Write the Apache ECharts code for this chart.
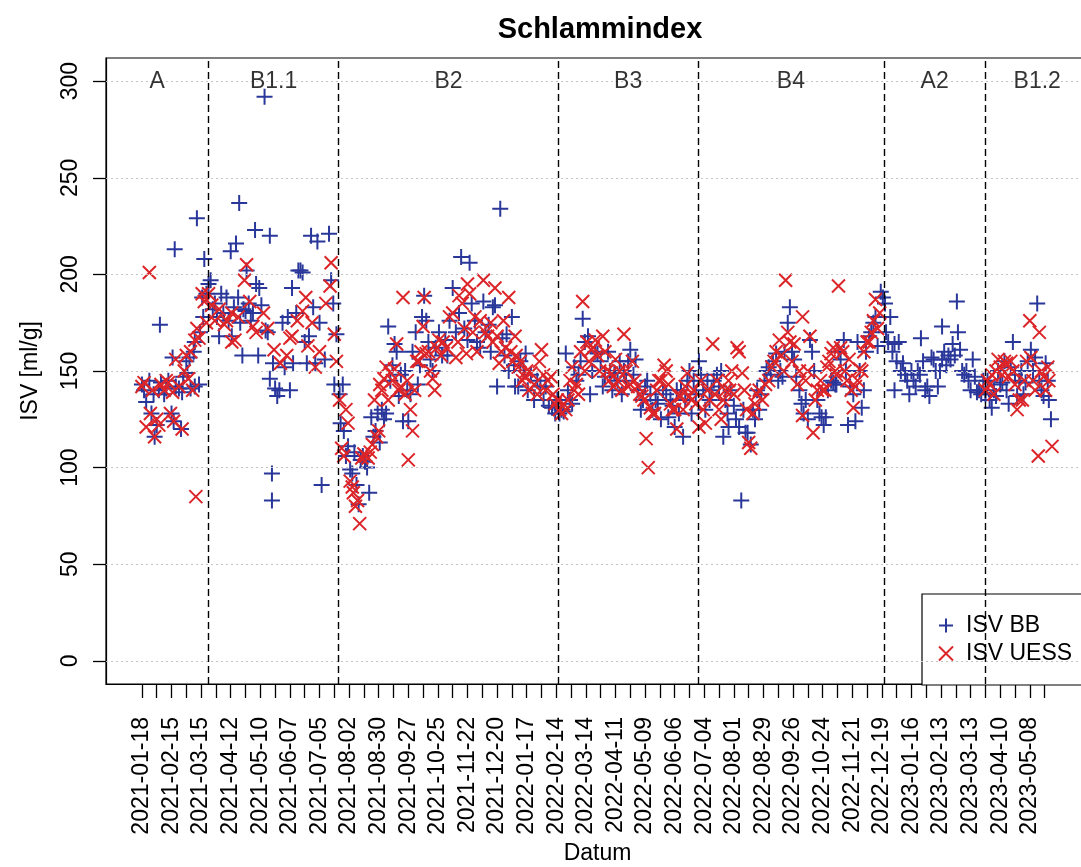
<!DOCTYPE html>
<html>
<head>
<meta charset="utf-8">
<title>Schlammindex</title>
<script src="https://cdn.jsdelivr.net/npm/echarts@6/dist/echarts.min.js"></script>
<style>
  html, body { margin: 0; padding: 0; background: #fff; }
  #chart { width: 1081px; height: 867px; }
</style>
</head>
<body>
<div id="chart"></div>
<script>
// Measurement days are counted from 2021-01-18 (day 0); values are ISV in ml/g.
const START_DATE = '2021-01-18';

const isvBB = [
  [0,143],[2,140],[4,134],[7,145],[9,128],[11,138],[12,116],[14,122],[16,140],[17,174],[18,144],[21,138],
  [23,141],[25,145],[28,128],[29,157],[30,124],[31,213],[32,142],[35,141],[37,120],[38,139],[39,147],[42,155],
  [43,149],[45,157],[46,141],[49,160],[50,142],[50,165],[52,229],[54,143],[55,170],[57,188],[58,178],[59,208],
  [61,190],
  [63,195],[65,197],[67,182],[69,185],[71,178],[73,168],[75,190],[77,180],[80,188],[82,176],[84,212],[85,168],
  [87,183],[89,216],[91,188],[92,237],[93,175],[95,158],[96,182],[98,181],[99,202],[101,185],[103,176],[105,180],
  [107,223],[108,195],[110,158],[111,193],[113,184],[116,292],[117,171],[119,170],[121,220],[121,146],[123,97],
  [123,83],[124,154],[126,141],[128,137],[130,140],[133,175],[135,152],[138,178],[140,140],[142,193],[143,154],
  [146,180],[148,202],[150,202],[152,201],[154,165],[156,154],[158,168],[160,220],[162,183],[164,154],[166,217],
  [168,175],[170,91],[173,156],[177,221],[179,197],[181,185],[182,143],[184,169],
  [187,138],[188,123],[190,143],[191,119],[193,106],[195,111],[197,99],[199,97],[201,108],[203,91],[205,81],
  [207,104],[209,106],[211,103],[213,100],[215,87],[217,126],[219,116],[221,119],[223,128],[225,113],[227,130],
  [229,125],[231,128],[233,173],[235,145],[237,153],[239,164],[241,160],[243,137],[245,148],[247,124],[249,150],
  [251,140],[252,124],[254,138],[256,160],[259,170],[261,143],[263,153],[265,178],[267,189],[269,176],[271,165],
  [273,156],[275,150],[278,162],[281,170],[284,158],[287,166],[289,158],[291,176],[294,193],[297,170],[300,180],
  [302,209],[305,172],[308,166],[310,206],[312,185],[315,176],[317,165],[320,162],[323,186],[325,170],[328,174],
  [330,160],[332,183],[334,184],[336,142],[339,234],[341,167],[343,158],[345,169],[347,150],[350,178],[352,153],
  [353,142],[356,142],[358,155],[361,150],[363,159],[365,140],[368,148],[371,135],[374,145],[377,142],[380,135],
  [382,142],[385,132],[388,131],[391,128],[393,135],
  [395,128],[397,130],[399,129],[401,159],[403,140],[405,135],[407,133],[409,152],[411,145],[413,148],[415,155],
  [417,177],[419,165],[422,168],[424,138],[426,150],[429,160],[431,159],[434,155],[436,142],[438,147],[441,160],
  [443,150],[445,140],[447,149],[450,145],[452,155],[454,138],[456,150],[458,145],[460,155],[462,161],[465,148],
  [467,156],[469,140],[472,130],[474,135],[476,142],[478,145],[481,138],[483,130],[486,135],[488,133],[491,125],
  [493,140],[496,138],[498,126],[500,135],[502,132],[504,121],[506,140],[508,128],[510,140],[512,116],[514,135],
  [516,145],[518,150],[520,128],[522,145],[524,138],
  [527,155],[529,148],[531,140],[533,130],[535,145],[537,135],[539,140],[541,145],[544,148],[546,142],[548,150],
  [550,116],[552,135],[554,128],[555,121],[557,140],[560,132],[562,125],[565,121],[567,83],[569,130],[571,118],
  [573,118],[576,112],[578,130],[580,125],[582,140],[584,130],[586,138],[589,145],[591,150],[593,152],[595,148],
  [597,155],[600,159],[602,145],[604,150],[606,147],[608,160],[611,175],[613,183],[615,160],[617,156],[619,147],
  [622,140],[624,133],[626,128],[628,135],[630,125],[632,166],[634,160],[636,150],[639,135],[641,128],[643,126],
  [645,122],[647,126],[649,140],[652,145],[654,144],[656,143],[657,143],[659,160],[661,156],[664,166],[666,150],
  [668,122],[670,142],[673,138],[675,124],[677,165],[679,150],[681,131],[683,140],[685,160],[688,168],[690,170],
  [692,175],[694,178],[696,163],[699,191],[701,188],
  [703,185],[704,170],[706,165],[708,178],[710,160],[712,164],[712,140],[714,155],[716,165],[718,150],[720,154],
  [722,148],[724,145],[726,138],[728,150],[730,145],[732,142],[734,150],[736,148],[737,167],[739,155],[741,140],
  [743,142],[745,137],[747,157],[749,156],[751,150],[753,142],[755,150],[757,156],[757,173],[759,160],[761,153],
  [763,158],[765,156],[767,164],[769,158],[771,186],[772,170],[774,161],[776,150],[778,148],[780,150],[782,145],
  [784,140],[786,156],[788,147],[790,139],[792,140],[794,138],[796,145],
  [798,138],[800,145],[802,135],[804,131],[806,140],[808,137],[810,150],[812,143],[814,144],[816,155],[818,140],
  [820,133],[822,152],[824,165],[826,148],[828,137],[830,145],[832,150],[834,138],[836,144],[838,155],[841,161],
  [843,150],[845,157],[847,185],[849,145],[851,140],[853,137],[855,154],[857,145],[858,135],[860,125]
];

const isvUESS = [
  [0,142],[2,144],[4,121],[7,201],[8,128],[10,140],[12,116],[14,125],[16,122],[18,143],[21,140],[23,145],
  [25,144],[27,128],[29,139],[30,124],[32,156],[35,142],[38,120],[40,150],[42,158],[44,146],[46,160],[48,140],
  [50,166],[51,85],[52,172],[54,167],[57,190],[59,186],[61,175],
  [63,190],[66,184],[69,176],[73,182],[78,174],[80,176],[85,180],[85,165],[88,166],[91,178],[97,197],[99,205],
  [102,186],[105,173],[108,170],[115,180],[119,172],[125,161],[131,154],[137,158],[140,167],[142,168],[147,176],
  [152,181],[155,188],[157,163],[161,175],[164,152],[168,160],[174,185],[178,194],[179,206],[182,169],[184,155],
  [187,135],[189,110],[191,106],[193,130],[195,123],[197,93],[199,90],[200,87],[202,80],[204,83],[206,71],
  [208,105],[210,107],[212,106],[214,105],[216,108],[218,112],[220,135],[222,116],[224,119],[225,143],[227,140],
  [229,146],[231,152],[233,135],[235,149],[237,145],[239,151],[241,164],[243,140],[245,142],[247,188],[249,138],
  [251,145],[252,104],[254,130],[256,119],[258,140],[260,155],[262,155],[264,160],[266,173],[267,188],[269,159],
  [271,160],[273,150],[275,146],[277,140],[279,162],[281,166],[283,158],[285,165],[288,162],[291,178],[294,180],
  [297,157],[299,165],[300,189],[303,185],[305,172],[307,159],[308,195],[310,190],[313,170],[315,178],[317,160],
  [320,176],[323,197],[325,170],[327,168],[330,175],[332,165],[334,193],[336,168],[338,154],[340,160],[342,176],
  [344,162],[347,188],[349,160],[351,155],[353,168],[354,158],[356,152],[358,155],[360,145],[362,147],[364,150],
  [366,140],[368,149],[371,143],[374,138],[376,155],[378,161],[380,148],[382,140],[384,145],[387,147],[389,138],
  [391,133],[393,135],
  [395,130],[397,128],[399,133],[401,130],[403,135],[405,145],[407,152],[409,140],[411,143],[413,138],[415,160],
  [417,186],[419,150],[421,165],[423,155],[425,161],[427,162],[429,166],[431,158],[433,150],[436,168],[438,160],
  [440,150],[442,145],[444,149],[446,142],[448,156],[450,145],[452,150],[454,140],[456,169],[458,150],[460,142],
  [462,143],[464,155],[466,145],[469,142],[471,138],[473,137],[475,135],[477,115],[479,100],[481,131],[483,128],
  [485,128],[487,140],[489,145],[491,145],[494,153],[496,150],[498,143],[500,133],[502,130],[504,130],[506,120],
  [508,137],[510,137],[512,130],[514,142],[516,149],[518,137],[520,135],[522,140],[524,133],
  [527,121],[529,145],[531,130],[533,123],[535,140],[537,135],[540,164],[542,138],[544,145],[546,130],[548,125],
  [550,135],[552,140],[555,145],[556,140],[558,150],[560,138],[563,162],[565,160],[568,149],[570,140],[572,130],
  [574,113],[576,110],[578,128],[580,133],[582,138],[584,140],[587,135],[590,143],[593,145],[596,152],[598,155],
  [600,160],[603,166],[605,158],[607,150],[609,197],[611,170],[613,165],[615,155],[617,164],[620,143],[622,150],
  [625,178],[625,127],[628,145],[630,150],[632,168],[635,118],[637,135],[639,140],[642,145],[644,140],[646,140],
  [648,152],[650,155],[652,159],[654,162],[656,150],[657,148],[659,194],[661,162],[663,160],[665,150],[667,145],
  [669,156],[671,140],[673,131],[675,142],[677,145],[679,151],[681,150],[683,160],[686,165],[688,165],[690,170],
  [692,176],[694,187],[696,172],[698,180],
  [798,140],[800,145],[802,143],[804,148],[806,138],[808,150],[810,156],[812,152],[814,148],[816,155],[818,154],
  [820,147],[822,155],[824,150],[826,143],[828,130],[830,135],[833,135],[835,145],[837,155],[840,176],[841,157],
  [843,145],[845,140],[848,106],[849,170],[851,150],[853,147],[855,140],[857,152],[858,145],[861,111]
];

// Process phases and the dates where one phase ends and the next begins
const phaseNames = ['A', 'B1.1', 'B2', 'B3', 'B4', 'A2', 'B1.2'];
const phaseBreaks = ['2021-03-22', '2021-07-23', '2022-02-16', '2022-06-28', '2022-12-21', '2023-03-27'];

// Labelled date ticks (an unlabelled tick sits two weeks after each one)
const dateLabels = [
  '2021-01-18','2021-02-15','2021-03-15','2021-04-12','2021-05-10','2021-06-07','2021-07-05','2021-08-02',
  '2021-08-30','2021-09-27','2021-10-25','2021-11-22','2021-12-20','2022-01-17','2022-02-14','2022-03-14',
  '2022-04-11','2022-05-09','2022-06-06','2022-07-04','2022-08-01','2022-08-29','2022-09-26','2022-10-24',
  '2022-11-21','2022-12-19','2023-01-16','2023-02-13','2023-03-13','2023-04-10','2023-05-08'
];
const yTicks = [0, 50, 100, 150, 200, 250, 300];

const FONT = 'Liberation Sans, Arial, Helvetica, sans-serif';
const BLUE = '#2a379a';
const RED = '#dc2529';
const PLUS = 'path://M5,0L5,10M0,5L10,5';
const CROSS = 'path://M0,0L10,10M0,10L10,0';
const DAY_MS = 86400000;

function utc(s) {
  const [y, m, d] = s.split('-').map(Number);
  return Date.UTC(y, m - 1, d);
}
const startUtc = utc(START_DATE);
function dateToDay(s) { return Math.round((utc(s) - startUtc) / DAY_MS); }
function pad(n) { return n < 10 ? '0' + n : '' + n; }
function dayToLabel(day) {
  const d = new Date(startUtc + Math.round(day) * DAY_MS);
  return d.getUTCFullYear() + '-' + pad(d.getUTCMonth() + 1) + '-' + pad(d.getUTCDate());
}

// x axis in days since the start date; the plot runs a little past the right edge of the page
const xMin = -34;
const xMax = 896;

const labelDays = dateLabels.map(dateToDay);
const tickDays = [];
labelDays.forEach(d => { tickDays.push(d, d + 14); });

const breakDays = phaseBreaks.map(dateToDay);
const edges = [xMin].concat(breakDays, [xMax]);
const phaseLabelData = phaseNames.map((name, i) => ({
  name: name,
  value: [(edges[i] + edges[i + 1]) / 2, 300]
}));

const chart = echarts.init(document.getElementById('chart'), null, { renderer: 'canvas' });

chart.setOption({
  animation: false,
  backgroundColor: '#fff',
  textStyle: { fontFamily: FONT },
  title: {
    text: 'Schlammindex',
    left: 600,
    top: 15,
    padding: 0,
    textAlign: 'center',
    textStyle: { fontFamily: FONT, fontSize: 29, fontWeight: 'bold', color: '#000' }
  },
  grid: {
    left: 106, top: 58, width: 983, height: 626,
    outerBoundsMode: 'none',
    containLabel: false,
    show: true, borderColor: '#000', borderWidth: 1.2, backgroundColor: 'transparent'
  },
  legend: {
    orient: 'vertical',
    left: 922, top: 594,
    padding: [20, 40, 20, 16],
    itemGap: 5,
    itemWidth: 14, itemHeight: 14,
    borderColor: '#000', borderWidth: 1.2, borderRadius: 0,
    backgroundColor: '#fff',
    selectedMode: false,
    textStyle: { fontFamily: FONT, fontSize: 23, color: '#000', padding: [0, 0, 0, 8] },
    data: [
      { name: 'ISV BB', icon: PLUS, itemStyle: { color: 'rgba(0,0,0,0)', borderColor: BLUE, borderWidth: 2 } },
      { name: 'ISV UESS', icon: CROSS, itemStyle: { color: 'rgba(0,0,0,0)', borderColor: RED, borderWidth: 2 } }
    ]
  },
  xAxis: {
    type: 'value',
    min: xMin, max: xMax,
    name: 'Datum',
    nameLocation: 'middle',
    nameGap: 157,
    nameTextStyle: { fontFamily: FONT, fontSize: 23, color: '#000' },
    axisLine: { show: true, onZero: false, lineStyle: { color: '#000', width: 1.2 } },
    axisTick: { show: true, customValues: tickDays, length: 14, lineStyle: { color: '#000', width: 1.3 } },
    axisLabel: {
      customValues: labelDays,
      rotate: 90,
      margin: 33,
      fontFamily: FONT, fontSize: 23, color: '#000',
      formatter: v => dayToLabel(v)
    },
    splitLine: { show: false }
  },
  yAxis: {
    type: 'value',
    min: -12, max: 312,
    name: 'ISV [ml/g]',
    nameLocation: 'middle',
    nameRotate: 90,
    nameGap: 64,
    nameTextStyle: { fontFamily: FONT, fontSize: 23, color: '#000' },
    axisLine: { show: true, onZero: false, lineStyle: { color: '#000', width: 1.2 } },
    axisTick: { show: true, customValues: yTicks, length: 13, lineStyle: { color: '#000', width: 1.3 } },
    axisLabel: {
      customValues: yTicks,
      rotate: 90,
      margin: 24,
      fontFamily: FONT, fontSize: 23, color: '#000'
    },
    splitLine: { show: false }
  },
  series: [
    {
      name: 'guides',
      type: 'line',
      data: [],
      z: 1,
      silent: true,
      markLine: {
        silent: true,
        symbol: 'none',
        label: { show: false },
        lineStyle: { color: '#c4c4c4', type: [2, 3], width: 1 },
        data: yTicks.map(v => ({ yAxis: v }))
      }
    },
    {
      name: 'ISV BB',
      type: 'scatter',
      symbol: PLUS,
      symbolSize: 16,
      z: 3,
      itemStyle: { color: 'rgba(0,0,0,0)', borderColor: BLUE, borderWidth: 2, opacity: 1 },
      data: isvBB
    },
    {
      name: 'ISV UESS',
      type: 'scatter',
      symbol: CROSS,
      symbolSize: 13,
      z: 4,
      itemStyle: { color: 'rgba(0,0,0,0)', borderColor: RED, borderWidth: 2, opacity: 1 },
      data: isvUESS
    },
    {
      name: 'phases',
      type: 'scatter',
      symbolSize: 0,
      silent: true,
      z: 5,
      label: {
        show: true,
        position: 'inside',
        formatter: p => p.name,
        fontFamily: FONT, fontSize: 23, color: '#000'
      },
      data: phaseLabelData,
      markLine: {
        silent: true,
        symbol: 'none',
        label: { show: false },
        lineStyle: { color: '#000', type: [7, 4], width: 1.4 },
        data: breakDays.map(d => ({ xAxis: d }))
      }
    }
  ]
});
</script>
</body>
</html>
